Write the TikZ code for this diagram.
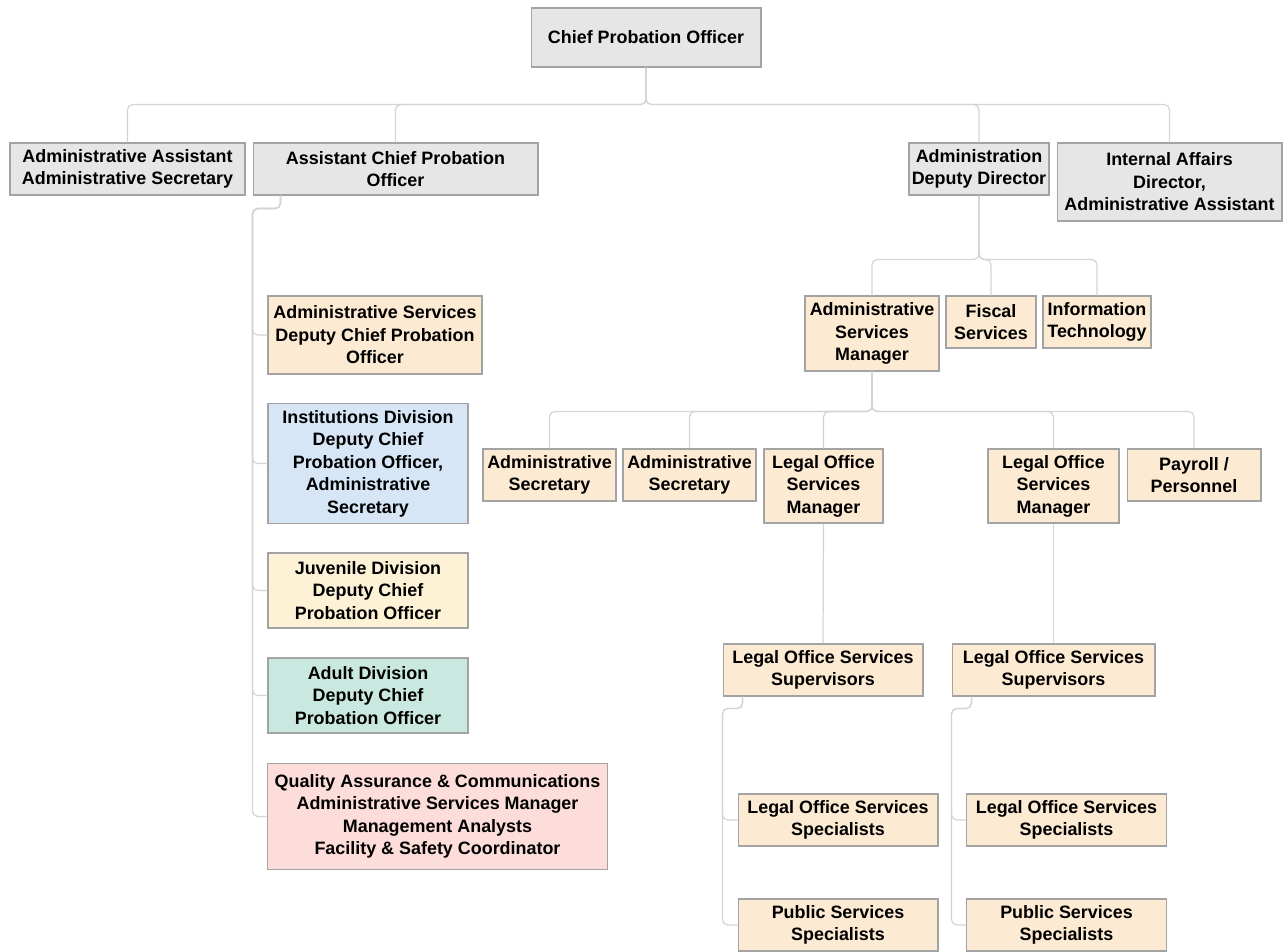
\documentclass[tikz,border=0pt]{standalone}
\usepackage{fontspec}
\setmainfont{Liberation Sans}
\usepackage{tikz}
\usetikzlibrary{positioning,calc}
\usepackage{xcolor}
\definecolor{boxline}{HTML}{A3A3A3}
\definecolor{linkgray}{HTML}{D4D4D4}
\definecolor{grayfill}{HTML}{E6E6E6}
\definecolor{peachfill}{HTML}{FCEAD2}
\definecolor{bluefill}{HTML}{D6E6F6}
\definecolor{yellowfill}{HTML}{FEF2D6}
\definecolor{tealfill}{HTML}{C9E9E0}
\definecolor{pinkfill}{HTML}{FCDDD9}
\tikzset{
    unit/.style={
        draw=boxline,
        line width=0.6pt,
        rectangle,
        align=center,
        inner sep=1pt,
        font=\bfseries\fontsize{10.2}{12.8}\selectfont
    },
    graybox/.style={unit, fill=grayfill},
    peachbox/.style={unit, fill=peachfill},
    link/.style={
        draw=linkgray,
        line width=0.7pt,
        rounded corners=3pt
    }
}

\begin{document}
\begin{tikzpicture}[x=0.02cm, y=-0.02cm]
    \useasboundingbox (0,0) rectangle (1288,952);

    % top level
    \node[graybox, minimum width=4.6cm, minimum height=1.18cm] (cpo) at (646,37.5) {Chief Probation Officer};
    \node[graybox, minimum width=4.7cm, minimum height=1.04cm] (aa) at (127.5,169) {Administrative Assistant\\Administrative Secretary};
    \node[graybox, minimum width=5.7cm, minimum height=1.04cm] (acpo) at (395.5,169) {Assistant Chief Probation\\Officer};
    \node[graybox, minimum width=2.8cm, minimum height=1.04cm] (add) at (979,169) {Administration\\Deputy Director};
    \node[graybox, minimum width=4.5cm, minimum height=1.56cm] (ia) at (1169.5,182) {Internal Affairs\\Director,\\Administrative Assistant};

    % divisions under the assistant chief
    \node[peachbox, minimum width=4.28cm, minimum height=1.56cm] (asdc) at (375,335) {Administrative Services\\Deputy Chief Probation\\Officer};
    \node[unit, fill=bluefill, minimum width=4.0cm, minimum height=2.4cm] (inst) at (368,463.5) {Institutions Division\\Deputy Chief\\Probation Officer,\\Administrative\\Secretary};
    \node[unit, fill=yellowfill, minimum width=4.0cm, minimum height=1.5cm] (juv) at (368,590.5) {Juvenile Division\\Deputy Chief\\Probation Officer};
    \node[unit, fill=tealfill, minimum width=4.0cm, minimum height=1.5cm] (adult) at (368,695.5) {Adult Division\\Deputy Chief\\Probation Officer};
    \node[unit, fill=pinkfill, minimum width=6.8cm, minimum height=2.12cm] (qa) at (437.5,816.5) {Quality Assurance \& Communications\\Administrative Services Manager\\Management Analysts\\Facility \& Safety Coordinator};

    % administration
    \node[peachbox, minimum width=2.68cm, minimum height=1.5cm] (asm) at (872,333.5) {Administrative\\Services\\Manager};
    \node[peachbox, minimum width=1.8cm, minimum height=1.04cm] (fiscal) at (991,322) {Fiscal\\Services};
    \node[peachbox, minimum width=2.16cm, minimum height=1.04cm] (it) at (1097,322) {Information\\Technology};

    \node[peachbox, minimum width=2.66cm, minimum height=1.04cm] (sec1) at (549.5,475) {Administrative\\Secretary};
    \node[peachbox, minimum width=2.66cm, minimum height=1.04cm] (sec2) at (689.5,475) {Administrative\\Secretary};
    \node[peachbox, minimum width=2.38cm, minimum height=1.48cm] (losm1) at (823.5,486) {Legal Office\\Services\\Manager};
    \node[peachbox, minimum width=2.62cm, minimum height=1.48cm] (losm2) at (1053.5,486) {Legal Office\\Services\\Manager};
    \node[peachbox, minimum width=2.68cm, minimum height=1.04cm] (pay) at (1194,475) {Payroll /\\Personnel};

    \node[peachbox, minimum width=4.0cm, minimum height=1.04cm] (loss1) at (823,670) {Legal Office Services\\Supervisors};
    \node[peachbox, minimum width=4.06cm, minimum height=1.04cm] (loss2) at (1053.5,670) {Legal Office Services\\Supervisors};
    \node[peachbox, minimum width=4.0cm, minimum height=1.04cm] (spec1) at (838,820) {Legal Office Services\\Specialists};
    \node[peachbox, minimum width=4.0cm, minimum height=1.04cm] (pss1) at (838,925) {Public Services\\Specialists};
    \node[peachbox, minimum width=4.0cm, minimum height=1.04cm] (spec2) at (1066.5,820) {Legal Office Services\\Specialists};
    \node[peachbox, minimum width=4.0cm, minimum height=1.04cm] (pss2) at (1066.5,925) {Public Services\\Specialists};

    % connectors
    \foreach \kid in {aa,acpo,add,ia}
        \draw[link] (cpo.south) -- ++(0,37) -| (\kid.north);
    \foreach \kid in {asdc,inst,juv,adult,qa}
        \draw[link] ($(acpo.south west)+(28,0)$) -- ++(0,13) -- ++(-28,0) |- (\kid.west);
    \foreach \kid in {asm,fiscal,it}
        \draw[link] (add.south) -- ++(0,64) -| (\kid.north);
    \foreach \kid in {sec1,sec2,losm1,losm2,pay}
        \draw[link] (asm.south) -- ++(0,40) -| (\kid.north);
    \draw[link] (losm1.south) -- (loss1.north);
    \draw[link] (losm2.south) -- (loss2.north);
    \foreach \kid in {spec1,pss1}
        \draw[link] ($(loss1.south west)+(20,0)$) -- ++(0,12) -- ++(-20,0) |- (\kid.west);
    \foreach \kid in {spec2,pss2}
        \draw[link] ($(loss2.south west)+(20,0)$) -- ++(0,12) -- ++(-20,0) |- (\kid.west);
\end{tikzpicture}
\end{document}
